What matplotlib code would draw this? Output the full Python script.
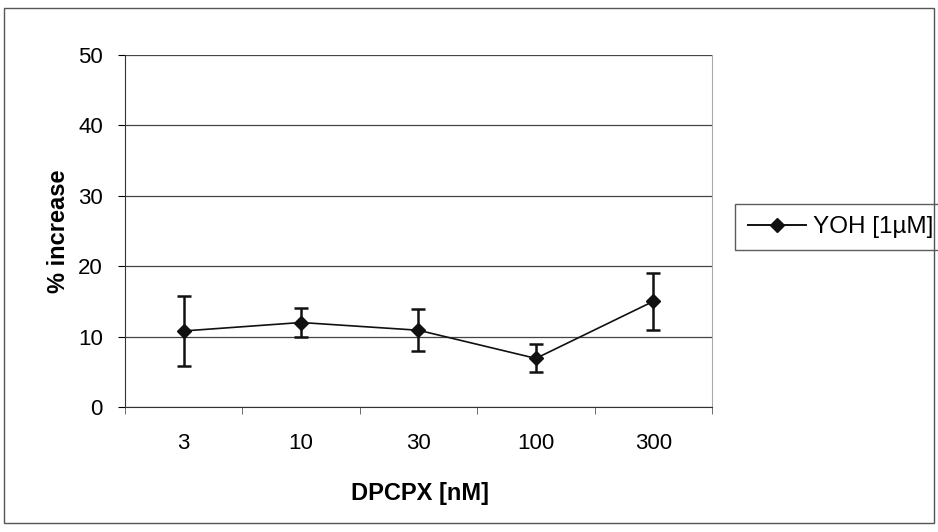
import matplotlib
matplotlib.use("Agg")
import matplotlib.pyplot as plt
from matplotlib.lines import Line2D
import numpy as np

plt.rcParams['font.family'] = ['Liberation Sans', 'DejaVu Sans']

categories = ["3", "10", "30", "100", "300"]
yoh_mean = [10.8, 12.0, 10.9, 6.9, 15.0]
yoh_err = [5.0, 2.0, 3.0, 2.0, 4.0]

fig = plt.figure(figsize=(9.38, 5.32), dpi=100)
ax = fig.add_axes([0.1333, 0.235, 0.6257, 0.6616])

x = np.arange(len(categories))
ax.errorbar(x, yoh_mean, yerr=yoh_err, color="#111111", lw=1.2,
            marker="D", markersize=7, capsize=5, capthick=1.8,
            elinewidth=1.8)

ax.set_xlim(-0.5, len(categories) - 0.5)
ax.set_ylim(0, 50)
ax.set_yticks(np.arange(0, 51, 10))
ax.set_xticks(x)
ax.set_xticklabels(categories)
ax.set_xticks(np.arange(-0.5, len(categories), 1), minor=True)
ax.tick_params(axis="x", which="major", length=0, pad=19, labelsize=16)
ax.tick_params(axis="x", which="minor", length=5, direction="out", color="#555555")
ax.tick_params(axis="y", length=5, direction="out", labelsize=16, pad=11)

ax.grid(axis="y", color="#444444", lw=0.9)
for s in ["left", "bottom"]:
    ax.spines[s].set_color("#333333")
for s in ["top", "right"]:
    ax.spines[s].set_color("#aaaaaa")
ax.spines["top"].set_visible(False)

ax.set_xlabel("DPCPX [nM]", fontsize=17, fontweight="bold", labelpad=20)
ax.set_ylabel("% increase", fontsize=17, fontweight="bold", labelpad=6)
ax.xaxis.label.set_x(0.503)

handle = Line2D([], [], color="#111111", lw=1.4, marker="D", markersize=7)
leg = ax.legend([handle], ["YOH [1µM]"], loc="center left",
                bbox_to_anchor=(1.04, 0.511), fontsize=17.5,
                frameon=True, fancybox=False, handlelength=2.4,
                borderpad=0.5, handletextpad=0.3, borderaxespad=0)
leg.get_frame().set_edgecolor("#333333")
leg.get_frame().set_linewidth(1.0)

# outer chart border
fig.patches.append(plt.Rectangle((0.004, 0.017), 0.992, 0.968, transform=fig.transFigure,
                                 fill=False, edgecolor="#555555", lw=1.0))

fig.savefig("out.png", dpi=100)
